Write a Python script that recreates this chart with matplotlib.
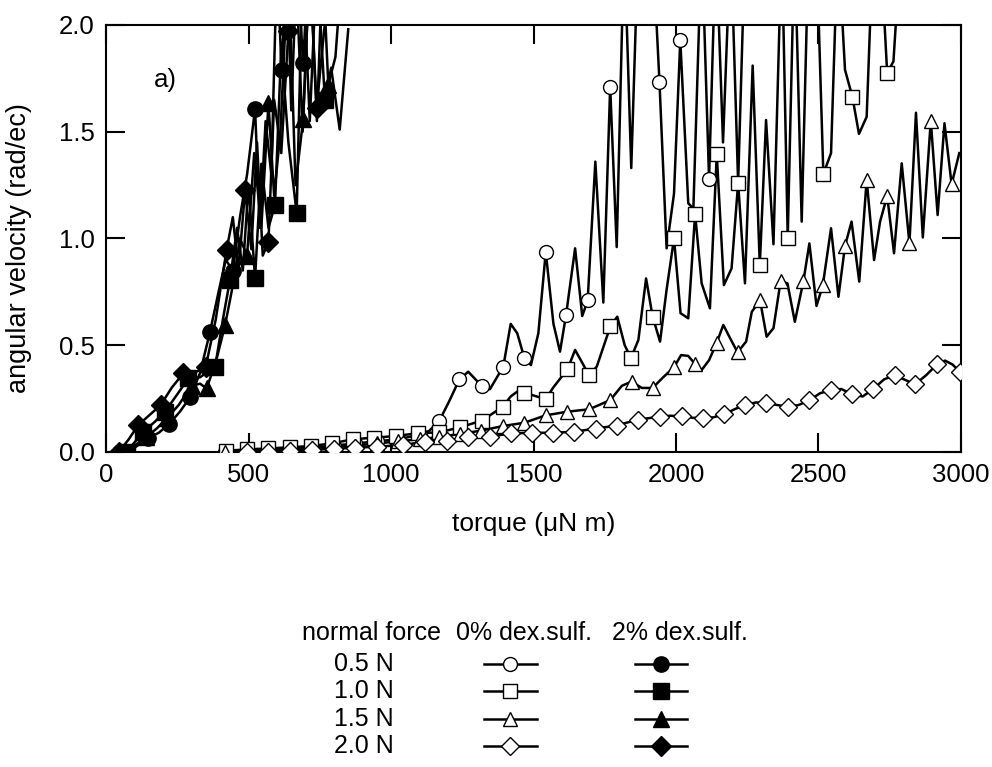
import matplotlib
matplotlib.use("Agg")
import matplotlib.pyplot as plt

plt.rcParams['font.family'] = ['Liberation Sans', 'DejaVu Sans']

# ---- 0% dex.sulf. (open markers) ----
# 0.5 N
c0_x = [417, 494, 570, 646, 722, 800, 875, 950, 1025, 1100, 1135, 1170, 1205, 1240, 1271, 1318, 1347,
        1394, 1420, 1443, 1468, 1491, 1517, 1543, 1570, 1593, 1614, 1646, 1671, 1690, 1717, 1745, 1769,
        1792, 1818, 1843, 1868, 1893, 1917, 1942, 1967, 1993, 2015, 2043, 2061, 2090, 2116, 2140, 2165,
        2192, 2218, 2243, 2269, 2292]
c0_y = [0.0, 0.005, 0.01, 0.015, 0.02, 0.03, 0.04, 0.05, 0.06, 0.08, 0.10, 0.147, 0.24, 0.34, 0.376, 0.31, 0.294,
        0.40, 0.60, 0.556, 0.44, 0.407, 0.556, 0.937, 0.60, 0.47, 0.64, 0.954, 0.637, 0.71, 1.36, 0.70, 1.71,
        0.96, 2.4, 1.33, 2.4, 2.4, 2.4, 1.733, 0.954, 1.21, 1.93, 1.165, 1.14, 2.4, 1.277, 2.4, 1.45,
        2.4, 1.26, 2.4, 2.4, 2.4]
c0_mx = [417, 494, 570, 646, 722, 800, 875, 950, 1025, 1100, 1170, 1240, 1318, 1394, 1468, 1543, 1614,
         1690, 1769, 1942, 2015, 2116, 2218]
c0_my = [0.0, 0.005, 0.01, 0.015, 0.02, 0.03, 0.04, 0.05, 0.06, 0.08, 0.147, 0.34, 0.31, 0.40, 0.44, 0.937, 0.64,
         0.71, 1.71, 1.733, 1.93, 1.277, 1.26]

# 1.0 N
s0_x = [421, 494, 570, 646, 718, 792, 868, 941, 1018, 1094, 1170, 1243, 1319, 1392, 1420, 1447, 1468, 1543,
        1568, 1619, 1646, 1695, 1722, 1770, 1794, 1820, 1842, 1868, 1895, 1918, 1944, 1967, 1993, 2016,
        2043, 2067, 2090, 2119, 2143, 2168, 2195, 2218, 2242, 2269, 2294, 2316, 2342, 2371, 2392, 2416,
        2441, 2466, 2492, 2517, 2544, 2568, 2593, 2619, 2642, 2669, 2692, 2716, 2741, 2763, 2790]
s0_y = [0.006, 0.012, 0.017, 0.022, 0.028, 0.04, 0.06, 0.067, 0.075, 0.088, 0.092, 0.116, 0.147, 0.212, 0.26,
        0.287, 0.278, 0.247, 0.30, 0.387, 0.478, 0.36, 0.40, 0.59, 0.634, 0.50, 0.44, 0.525, 0.813, 0.634,
        0.517, 0.76, 1.0, 0.65, 0.626, 1.115, 0.79, 0.673, 1.396, 0.782, 0.86, 1.26, 0.79, 1.81, 0.874,
        1.555, 0.973, 2.4, 1.004, 2.4, 1.079, 2.4, 2.4, 1.302, 1.40, 2.4, 1.79, 1.663, 1.49, 1.57, 2.4,
        2.4, 1.774, 1.83, 2.4]
s0_mx = [421, 494, 570, 646, 718, 792, 868, 941, 1018, 1094, 1170, 1243, 1319, 1392, 1468, 1543, 1619, 1695,
         1770, 1842, 1918, 1993, 2067, 2143, 2218, 2294, 2392, 2517, 2619, 2741]
s0_my = [0.006, 0.012, 0.017, 0.022, 0.028, 0.04, 0.06, 0.067, 0.075, 0.088, 0.092, 0.116, 0.147, 0.212,
         0.278, 0.247, 0.387, 0.36, 0.59, 0.44, 0.634, 1.0, 1.115, 1.396, 1.26, 0.874, 1.004, 1.302, 1.663,
         1.774]

# 1.5 N
t0_x = [417, 494, 570, 646, 722, 800, 875, 950, 1025, 1100, 1170, 1243, 1316, 1394, 1468, 1543, 1580, 1619,
        1695, 1730, 1770, 1810, 1844, 1880, 1918, 1955, 1993, 2018, 2043, 2068, 2090, 2116, 2143, 2166,
        2193, 2216, 2246, 2266, 2295, 2318, 2342, 2367, 2391, 2417, 2447, 2468, 2493, 2515, 2544, 2570,
        2593, 2616, 2643, 2669, 2695, 2716, 2741, 2765, 2792, 2819, 2842, 2866, 2894, 2918, 2942, 2967,
        2994]
t0_y = [0.0, 0.005, 0.008, 0.012, 0.018, 0.025, 0.03, 0.04, 0.05, 0.06, 0.07, 0.085, 0.10, 0.122, 0.137,
        0.172, 0.18, 0.189, 0.20, 0.22, 0.244, 0.31, 0.33, 0.30, 0.30, 0.35, 0.397, 0.454, 0.45, 0.41,
        0.384, 0.43, 0.512, 0.595, 0.525, 0.467, 0.517, 0.657, 0.71, 0.54, 0.58, 0.80, 0.79, 0.61, 0.80,
        0.977, 0.684, 0.78, 1.048, 0.727, 0.965, 1.079, 0.798, 1.274, 0.899, 1.079, 1.199, 0.931, 1.352,
        0.977, 1.589, 1.005, 1.552, 1.11, 1.54, 1.254, 1.40]
t0_mx = [417, 494, 570, 646, 722, 800, 875, 950, 1025, 1100, 1170, 1243, 1316, 1394, 1468, 1543, 1619, 1695,
         1770, 1844, 1918, 1993, 2068, 2143, 2216, 2295, 2367, 2447, 2515, 2593, 2669, 2741, 2819, 2894,
         2967]
t0_my = [0.0, 0.005, 0.008, 0.012, 0.018, 0.025, 0.03, 0.04, 0.05, 0.06, 0.07, 0.085, 0.10, 0.122, 0.137,
         0.172, 0.189, 0.20, 0.244, 0.33, 0.30, 0.397, 0.41, 0.512, 0.467, 0.71, 0.80, 0.80, 0.78, 0.965,
         1.274, 1.199, 0.977, 1.552, 1.254]

# 2.0 N
d0_x = [494, 570, 646, 722, 800, 875, 950, 1043, 1119, 1195, 1271, 1347, 1421, 1494, 1570, 1643, 1719, 1792,
        1866, 1943, 1980, 2020, 2060, 2094, 2130, 2170, 2205, 2241, 2280, 2316, 2355, 2394, 2430, 2468,
        2505, 2543, 2580, 2619, 2655, 2690, 2730, 2767, 2800, 2839, 2878, 2917, 2944, 2970, 2996]
d0_y = [0.0, 0.0, 0.005, 0.01, 0.015, 0.02, 0.025, 0.033, 0.048, 0.053, 0.069, 0.072, 0.087, 0.09, 0.09,
        0.095, 0.11, 0.124, 0.152, 0.165, 0.17, 0.167, 0.16, 0.16, 0.162, 0.177, 0.20, 0.22, 0.232, 0.231,
        0.22, 0.212, 0.22, 0.242, 0.275, 0.29, 0.295, 0.27, 0.26, 0.293, 0.34, 0.36, 0.34, 0.317, 0.36,
        0.412, 0.428, 0.41, 0.376]
d0_mx = [494, 570, 646, 722, 800, 875, 950, 1043, 1119, 1195, 1271, 1347, 1421, 1494, 1570, 1643, 1719, 1792,
         1866, 1943, 2020, 2094, 2170, 2241, 2316, 2394, 2468, 2543, 2619, 2690, 2767, 2839, 2917, 2996]
d0_my = [0.0, 0.0, 0.005, 0.01, 0.015, 0.02, 0.025, 0.033, 0.048, 0.053, 0.069, 0.072, 0.087, 0.09, 0.09,
         0.095, 0.11, 0.124, 0.152, 0.165, 0.167, 0.16, 0.177, 0.22, 0.231, 0.212, 0.242, 0.29, 0.27, 0.293,
         0.36, 0.317, 0.412, 0.376]

# ---- 2% dex.sulf. (filled markers) ----
c2_x = [50, 100, 148, 185, 222, 260, 295, 330, 365, 395, 420, 445, 470, 495, 523, 540, 560, 580, 600, 616,
        635, 650, 670, 692, 710, 730]
c2_y = [0.0, 0.02, 0.064, 0.09, 0.131, 0.19, 0.256, 0.37, 0.563, 0.75, 0.90, 0.85, 1.10, 1.30, 1.607, 1.05,
        1.55, 1.30, 2.3, 1.79, 2.3, 1.60, 2.3, 1.82, 2.3, 2.3]
c2_mx = [50, 148, 222, 295, 365, 445, 523, 616, 692]
c2_my = [0.0, 0.064, 0.131, 0.256, 0.563, 0.85, 1.607, 1.79, 1.82]

s2_x = [72, 131, 170, 207, 250, 289, 330, 383, 410, 435, 460, 480, 500, 523, 545, 570, 593, 615, 640, 669,
        690, 715, 740, 768, 790, 820, 850]
s2_y = [0.0, 0.095, 0.14, 0.189, 0.27, 0.345, 0.35, 0.40, 0.62, 0.806, 1.05, 0.85, 1.25, 0.813, 1.35, 1.05,
        1.157, 1.9, 1.45, 1.118, 2.3, 1.55, 2.3, 1.65, 1.80, 1.51, 1.98]
s2_mx = [72, 131, 207, 289, 383, 435, 523, 593, 669, 768]
s2_my = [0.0, 0.095, 0.189, 0.345, 0.40, 0.806, 0.813, 1.157, 1.118, 1.65]

t2_x = [60, 100, 140, 178, 215, 255, 300, 330, 353, 385, 418, 445, 470, 495, 520, 545, 570, 590, 612, 640,
        665, 692, 715, 740, 760, 780, 805, 830]
t2_y = [0.0, 0.03, 0.07, 0.11, 0.16, 0.22, 0.31, 0.32, 0.298, 0.42, 0.595, 0.78, 1.0, 0.92, 1.40, 1.05,
        1.633, 1.20, 1.50, 2.3, 1.25, 1.56, 2.3, 1.55, 2.3, 1.72, 1.85, 2.3]
t2_mx = [60, 140, 215, 300, 353, 418, 495, 570, 692, 780]
t2_my = [0.0, 0.07, 0.16, 0.31, 0.298, 0.595, 0.92, 1.633, 1.56, 1.72]

d2_x = [45, 80, 113, 150, 192, 230, 271, 310, 350, 385, 423, 445, 465, 488, 510, 530, 550, 570, 590, 615,
        640, 665, 690, 715, 739, 760, 790]
d2_y = [0.0, 0.06, 0.126, 0.17, 0.22, 0.30, 0.369, 0.37, 0.40, 0.62, 0.946, 1.10, 0.85, 1.227, 0.95, 1.45,
        0.92, 0.985, 1.65, 1.40, 1.97, 2.3, 1.50, 2.3, 1.61, 1.90, 2.3]
d2_mx = [45, 113, 192, 271, 350, 423, 488, 570, 640, 739]
d2_my = [0.0, 0.126, 0.22, 0.369, 0.40, 0.946, 1.227, 0.985, 1.97, 1.61]

forces = ["0.5 N", "1.0 N", "1.5 N", "2.0 N"]
markers = ["o", "s", "^", "D"]
msizes = [10, 10, 10, 9]

open_series = [(c0_x, c0_y, c0_mx, c0_my), (s0_x, s0_y, s0_mx, s0_my),
               (t0_x, t0_y, t0_mx, t0_my), (d0_x, d0_y, d0_mx, d0_my)]
filled_series = [(c2_x, c2_y, c2_mx, c2_my), (s2_x, s2_y, s2_mx, s2_my),
                 (t2_x, t2_y, t2_mx, t2_my), (d2_x, d2_y, d2_mx, d2_my)]

fig = plt.figure(figsize=(9.92, 7.67), dpi=100)
ax = fig.add_axes([106 / 992, 1 - 452 / 767, 855 / 992, 427 / 767])

lw = 1.8
for (lx, ly, mx, my), m, ms in zip(open_series, markers, msizes):
    ax.plot(lx, ly, color="black", lw=lw, zorder=2)
    ax.plot(mx, my, ls="none", marker=m, ms=ms, mfc="white", mec="black", mew=1.0, zorder=3)
for (lx, ly, mx, my), m, ms in zip(filled_series, markers, msizes):
    ax.plot(lx, ly, color="black", lw=lw, zorder=4)
    ax.plot(mx, my, ls="none", marker=m, ms=ms + 1, mfc="black", mec="black", zorder=5)

ax.set_xlim(0, 3000)
ax.set_ylim(0, 2)
ax.set_xticks(range(0, 3001, 500))
ax.set_yticks([0, 0.5, 1.0, 1.5, 2.0])
ax.set_yticklabels(["0.0", "0.5", "1.0", "1.5", "2.0"])
ax.tick_params(direction="in", length=13.5, width=1.5, labelsize=18.5, pad=8,
               top=True, right=True)
for sp in ax.spines.values():
    sp.set_linewidth(1.5)

ax.set_xlabel("torque (μN m)", fontsize=19)
ax.xaxis.set_label_coords(0.5, -0.14)
ax.set_ylabel("angular velocity (rad/ec)", fontsize=19.5)
ax.yaxis.set_label_coords(-0.086, 0.477)
ax.text(0.069, 0.871, "a)", transform=ax.transAxes, fontsize=18.5, ha="center", va="center")

# legend table below the plot, in figure pixel coordinates
lg = fig.add_axes([0, 0, 1, 1])
lg.set_xlim(0, 992)
lg.set_ylim(767, 0)
lg.axis("off")
lg.text(372, 633, "normal force", fontsize=18, ha="center", va="center")
lg.text(524, 633, "0% dex.sulf.", fontsize=18, ha="center", va="center")
lg.text(680, 633, "2% dex.sulf.", fontsize=18, ha="center", va="center")
rows_y = [664, 691, 719, 746]
for f, m, ms, yy in zip(forces, markers, msizes, rows_y):
    lg.text(364, yy, f, fontsize=18, ha="center", va="center")
    lg.plot([484, 510, 537], [yy, yy, yy], color="black", lw=lw, marker=m, ms=ms,
            markevery=[1], mfc="white", mec="black", mew=1.0)
    lg.plot([635, 661, 687], [yy, yy, yy], color="black", lw=lw, marker=m, ms=ms + 1,
            markevery=[1], mfc="black", mec="black")

fig.savefig("out.png", dpi=100)
